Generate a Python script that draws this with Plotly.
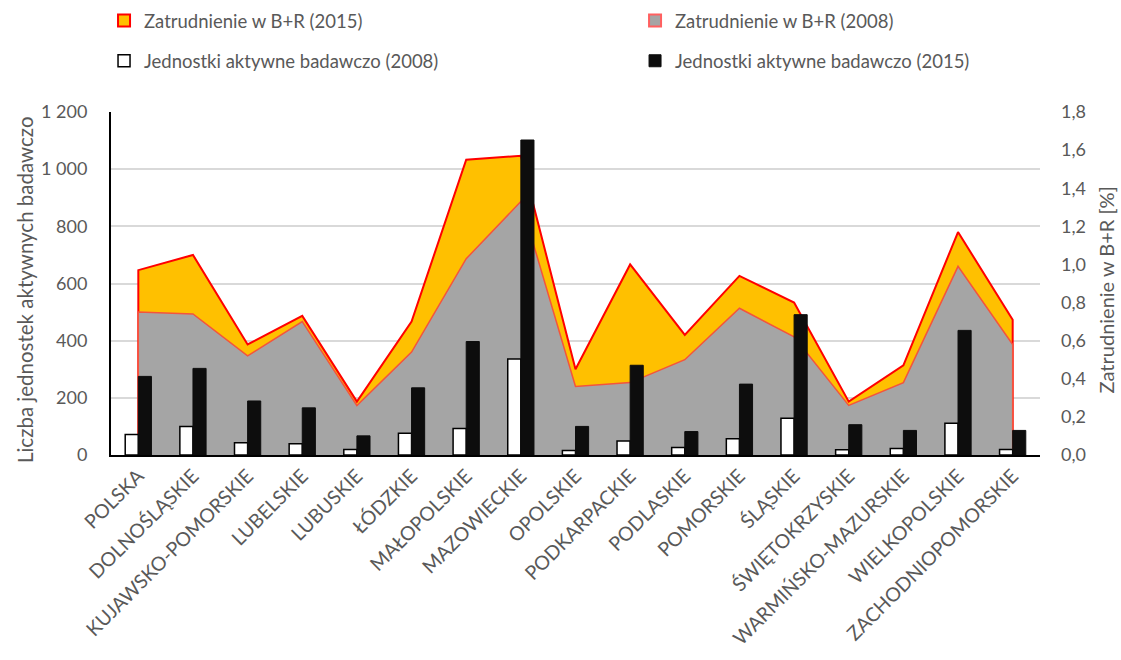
import plotly.graph_objects as go

categories = ["POLSKA", "DOLNOŚLĄSKIE", "KUJAWSKO-POMORSKIE", "LUBELSKIE", "LUBUSKIE",
              "ŁÓDZKIE", "MAŁOPOLSKIE", "MAZOWIECKIE", "OPOLSKIE", "PODKARPACKIE",
              "PODLASKIE", "POMORSKIE", "ŚLĄSKIE", "ŚWIĘTOKRZYSKIE", "WARMIŃSKO-MAZURSKIE",
              "WIELKOPOLSKIE", "ZACHODNIOPOMORSKIE"]

zatr_2015 = [0.97, 1.05, 0.58, 0.73, 0.28, 0.70, 1.55, 1.57, 0.45, 1.00,
             0.63, 0.94, 0.80, 0.28, 0.47, 1.17, 0.71]
zatr_2008 = [0.75, 0.74, 0.52, 0.70, 0.26, 0.54, 1.03, 1.33, 0.36, 0.38,
             0.50, 0.77, 0.62, 0.26, 0.38, 0.99, 0.58]
jedn_2008 = [72, 100, 43, 39, 19, 76, 93, 336, 16, 49, 26, 57, 129, 18, 23, 111, 19]
jedn_2015 = [275, 303, 189, 165, 67, 235, 397, 1102, 100, 314, 82, 248, 491, 106, 86, 436, 86]

left_ticks = [0, 200, 400, 600, 800, 1000, 1200]
right_ticks = [0, 0.2, 0.4, 0.6, 0.8, 1.0, 1.2, 1.4, 1.6, 1.8]

left_title = "Liczba jednostek aktywnych badawczo"
right_title = "Zatrudnienie w B+R [%]"

FONT = "Lato"
GREY = "#595959"
ORANGE, GRAYF, RED, RED2 = "#FFC000", "#A5A5A5", "#FF0000", "#F4543C"

idx = list(range(len(categories)))
xa = [idx[0]] + idx + [idx[-1]]

fig = go.Figure()
# areas (right axis)
fig.add_trace(go.Scatter(
    x=xa, y=[0] + zatr_2015 + [0], mode="lines", fill="tozeroy",
    fillcolor=ORANGE, line=dict(color=RED, width=2),
    name="Zatrudnienie w B+R (2015)", yaxis="y", showlegend=False))
fig.add_trace(go.Scatter(
    x=xa, y=[0] + zatr_2008 + [0], mode="lines", fill="tozeroy",
    fillcolor=GRAYF, line=dict(color=RED2, width=1.5),
    name="Zatrudnienie w B+R (2008)", yaxis="y", showlegend=False))
# legend-only entries for the areas (square swatches)
fig.add_trace(go.Bar(x=[None], y=[None], xaxis="x2", yaxis="y",
                     marker=dict(color=ORANGE, line=dict(color=RED, width=2)),
                     name="Zatrudnienie w B+R (2015)", legend="legend"))
fig.add_trace(go.Bar(x=[None], y=[None], xaxis="x2", yaxis="y",
                     marker=dict(color=GRAYF, line=dict(color="#FF6060", width=2)),
                     name="Zatrudnienie w B+R (2008)", legend="legend2"))
# bars (left axis)
fig.add_trace(go.Bar(
    x=idx, y=jedn_2008, marker=dict(color="#FFFFFF", line=dict(color="#000000", width=1.5)),
    name="Jednostki aktywne badawczo (2008)", yaxis="y2", legend="legend3"))
fig.add_trace(go.Bar(
    x=idx, y=jedn_2015, marker=dict(color="#0D0D0D", line=dict(color="#0D0D0D", width=1)),
    name="Jednostki aktywne badawczo (2015)", yaxis="y2", legend="legend4"))

def leg(x, y):
    return dict(xref="container", yref="container", x=x, y=y,
                xanchor="left", yanchor="top", font=dict(size=18.5, color=GREY),
                bgcolor="rgba(0,0,0,0)")

fig.update_layout(
    width=1121, height=660,
    margin=dict(l=111, r=81, t=112, b=205, autoexpand=False),
    paper_bgcolor="white", plot_bgcolor="white",
    font=dict(family=FONT, size=17, color=GREY),
    separators=", ",
    barmode="group", bargap=0.52, bargroupgap=0,
    xaxis=dict(range=[-0.5, len(categories) - 0.5], tickvals=idx, ticktext=categories,
               tickangle=-45, showgrid=False, showline=True, linecolor="#000000",
               linewidth=2, ticks="", tickfont=dict(size=19.5, color=GREY), zeroline=False),
    xaxis2=dict(overlaying="x", visible=False, range=[0, 1]),
    yaxis=dict(side="right", range=[0, 1.8], tickvals=right_ticks, tickformat=".1f",
               showgrid=False, showline=False, zeroline=False, ticklabelstandoff=20,
               tickfont=dict(size=18, color=GREY)),
    yaxis2=dict(side="left", overlaying="y", range=[0, 1200], tickvals=left_ticks,
                tickformat=",d", showgrid=True, gridcolor="#D9D9D9", gridwidth=1.5,
                showline=True, linecolor="#000000", linewidth=2, zeroline=False,
                ticklabelstandoff=18, tickfont=dict(size=18, color=GREY)),
    legend=leg(0.0928, 0.997),
    legend2=leg(0.5665, 0.997),
    legend3=leg(0.0928, 0.936),
    legend4=leg(0.5665, 0.936),
    annotations=[
        dict(text=left_title, xref="paper", yref="paper", x=-0.0925, y=0.481,
             textangle=-90, showarrow=False, xanchor="center", yanchor="middle",
             font=dict(size=20.5, color=GREY)),
        dict(text=right_title, xref="paper", yref="paper", x=1.0715, y=0.481,
             textangle=-90, showarrow=False, xanchor="center", yanchor="middle",
             font=dict(size=20, color=GREY)),
    ],
)

fig.write_html("out.html")
